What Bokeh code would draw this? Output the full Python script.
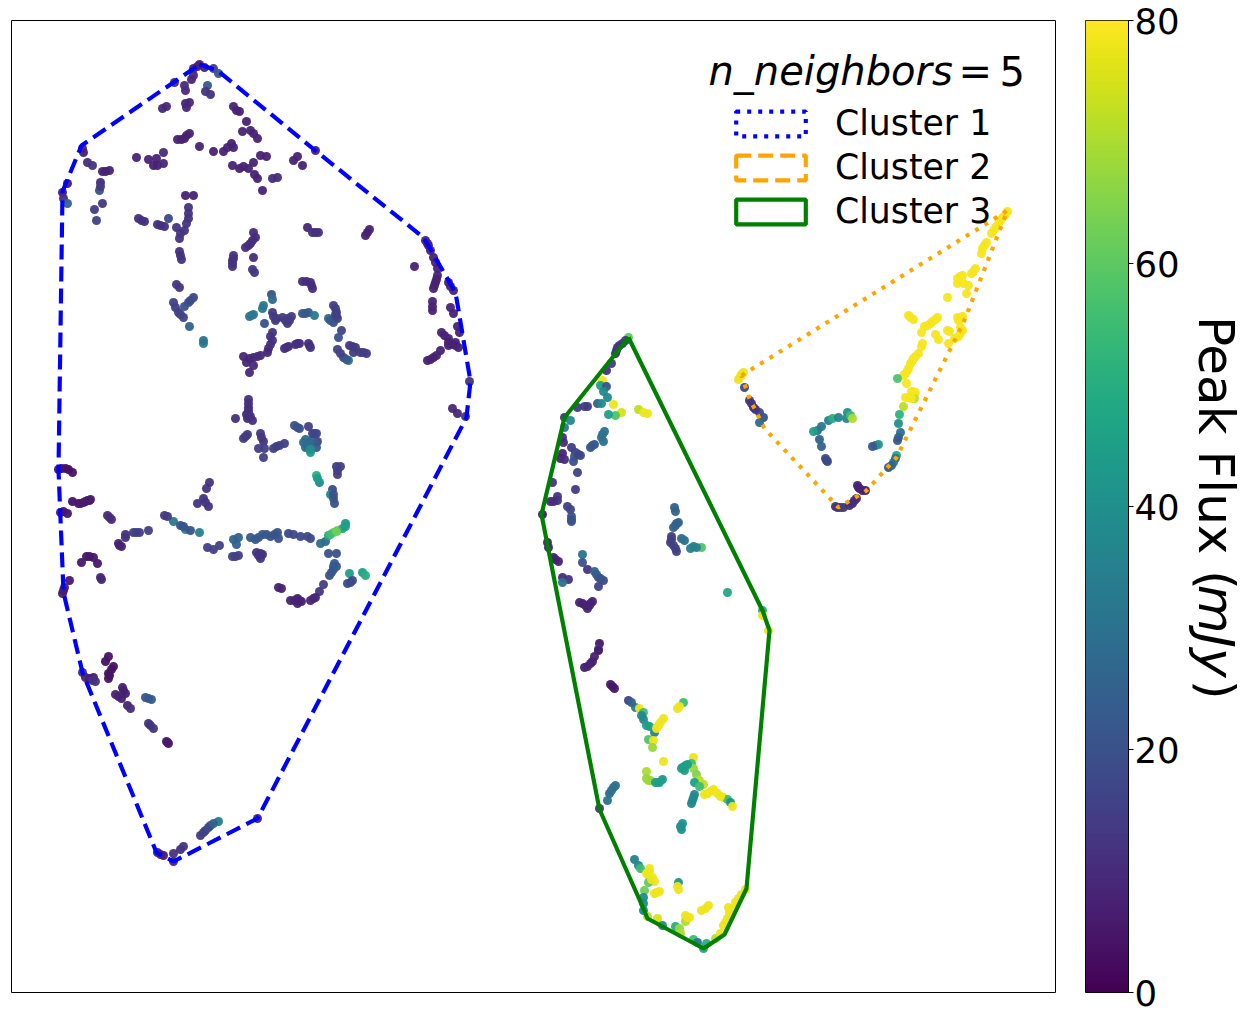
from bokeh.plotting import figure
from bokeh.layouts import row
from bokeh.models import (ColumnDataSource, LinearColorMapper, Label, Legend, LegendItem,
                          LinearAxis, FixedTicker, Range1d)
from bokeh.palettes import Viridis256
from bokeh.embed import file_html
from bokeh.resources import INLINE
import numpy as np

flux_ticks = [0, 20, 40, 60, 80]
cluster_names = ["Cluster 1", "Cluster 2", "Cluster 3"]
colorbar_label = ["Peak Flux (", "mJy", ")"]
legend_title = ["n_neighbors", "=", "5"]

hull1_x = [199, 217, 316, 423, 455, 470, 466, 257, 173, 156, 82, 63, 58, 62, 81, 199]
hull1_y = [64, 70, 151, 237, 292, 381, 417, 818, 861, 852, 672, 592, 469, 191, 145, 64]
hull2_x = [741, 1007, 963, 896, 866, 838, 764, 749, 741]
hull2_y = [375, 210, 322, 457, 490, 507, 428, 398, 375]
hull3_x = [628, 762, 769, 746, 724, 703, 647, 642, 599, 541, 564, 628]
hull3_y = [337, 610, 630, 888, 934, 948, 918, 906, 809, 514, 417, 337]

c1_x = [199,193,197,204,213,218,174,191,193,184,
        185,207,205,210,162,166,185,189,186,233,
        236,239,246,242,250,253,257,177,181,184,
        189,199,213,223,227,231,233,136,148,156,
        163,153,157,163,260,266,232,239,243,248,
        253,254,257,272,277,262,293,297,302,315,
        82,83,87,92,102,109,100,99,67,62,
        63,67,102,94,96,138,144,157,164,168,
        176,188,188,188,186,180,184,179,185,193,
        179,181,176,179,173,178,183,193,188,184,
        189,203,203,253,255,250,245,233,232,232,
        253,252,254,302,310,312,307,315,367,365,
        271,272,263,262,249,253,264,272,275,282,
        287,291,302,308,314,333,336,328,333,337,
        341,338,272,272,268,267,260,253,243,246,
        253,249,286,297,309,337,343,348,349,355,
        353,360,366,425,428,433,437,414,437,435,
        433,448,453,432,432,450,453,457,459,441,
        448,448,455,458,427,433,440,469,248,248,
        248,247,252,235,245,260,263,258,264,263,
        276,284,297,308,314,317,303,307,311,310,
        316,336,340,337,316,319,332,330,333,334,
        452,457,465,58,65,72,72,78,83,89,
        60,67,107,111,209,206,197,203,208,164,
        173,180,185,190,199,148,136,125,119,207,
        213,219,233,238,236,235,256,260,262,250,
        255,262,270,277,278,288,293,300,307,310,
        320,325,328,333,337,342,345,345,328,336,
        334,333,329,349,362,365,347,352,323,319,
        315,310,301,297,297,290,278,86,93,81,
        97,69,101,63,108,105,113,108,108,82,
        85,93,95,122,125,115,121,127,130,145,
        151,148,153,167,157,163,173,173,180,183,
        200,205,210,218,257]
c1_y = [64,68,66,67,68,73,82,79,75,85,
        90,85,91,94,108,106,103,102,107,106,
        110,111,121,131,130,133,138,139,139,138,
        133,146,151,151,147,143,147,157,159,158,
        152,165,165,163,155,156,165,168,166,168,
        162,174,178,178,177,190,160,156,165,150,
        148,152,162,165,171,170,182,190,183,192,
        198,203,203,209,220,218,221,224,226,218,
        227,207,213,218,223,233,230,238,195,195,
        251,259,284,287,302,312,317,297,302,306,
        326,343,340,232,237,243,247,255,260,266,
        257,269,272,281,282,288,227,232,232,235,
        294,299,305,308,316,314,323,312,320,317,
        323,316,313,312,315,305,312,318,322,318,
        330,337,332,340,348,352,355,357,356,362,
        365,372,347,343,345,349,357,360,345,347,
        352,352,353,240,245,257,268,266,275,282,
        288,282,290,301,310,307,313,326,332,332,
        338,345,342,347,360,357,350,381,399,407,
        413,418,420,418,436,433,441,448,448,457,
        446,443,427,426,433,441,442,445,440,452,
        447,466,466,474,475,482,489,494,498,503,
        408,413,416,469,468,472,501,503,502,500,
        512,513,515,519,482,488,503,498,506,515,
        521,525,529,530,532,530,532,537,545,547,
        549,545,539,537,544,556,552,558,554,537,
        539,534,536,532,538,533,534,536,536,538,
        543,541,535,532,530,528,523,526,553,553,
        563,569,575,573,572,575,583,580,584,591,
        597,600,601,598,603,600,587,556,557,562,
        563,580,579,590,656,661,666,673,678,672,
        677,677,681,687,693,694,698,705,708,697,
        699,723,728,742,852,855,861,853,849,846,
        835,830,825,821,818]
c1_flux = [7,8,8,8,15,22,9,9,9,10,
        10,22,12,12,9,9,9,9,9,8,
        8,8,8,8,8,8,8,8,8,8,
        8,8,8,8,8,8,8,8,8,8,
        10,8,8,9,8,8,8,8,8,8,
        8,8,8,10,10,8,8,8,8,8,
        8,8,10,12,8,8,10,20,6,7,
        10,25,13,14,15,11,11,11,11,18,
        12,12,12,12,12,12,12,12,8,8,
        11,11,13,13,15,16,16,17,18,20,
        25,35,30,10,10,10,10,12,12,12,
        10,13,13,10,10,10,9,11,8,8,
        20,28,32,32,32,32,20,14,14,14,
        14,14,22,22,33,15,15,26,20,18,
        16,20,12,12,10,9,10,10,9,9,
        9,9,11,11,11,15,18,30,14,14,
        14,14,14,8,8,8,8,8,8,8,
        8,8,8,8,8,8,8,8,8,8,
        8,8,8,8,8,8,8,12,11,11,
        11,11,11,11,14,13,13,15,15,15,
        15,15,20,15,17,17,28,28,25,45,
        22,15,15,15,50,38,18,38,22,20,
        9,9,14,4,4,4,4,6,6,6,
        5,5,10,10,12,12,12,12,12,14,
        32,20,35,20,35,15,15,12,8,15,
        15,15,25,25,25,15,12,12,12,22,
        22,22,20,20,20,18,18,18,18,18,
        28,28,48,62,65,48,42,45,20,20,
        22,22,20,45,45,50,18,18,15,13,
        9,9,8,8,8,8,8,5,5,5,
        5,5,9,6,4,4,4,4,4,10,
        7,7,12,7,7,8,7,8,10,20,
        24,12,12,6,7,7,9,12,12,12,
        14,16,20,33,7]

# further points read along the thicker strands of cluster 1
c1b_x = [186,105,100,141,160,180,175,180,190,252,
         248,232,233,306,311,312,318,369,251,273,
         276,285,289,287,305,335,330,336,335,270,
         270,257,249,284,288,295,299,310,308,340,
         346,352,363,430,435,427,436,434,450,432,
         444,448,452,455,430,436,248,248,248,246,
         250,243,247,261,273,279,294,299,312,316,
         305,305,309,310,337,317,333,61,68,85,
         80,87,90,63,109,205,167,183,133,139,
         125,118,121,232,238,258,260,258,266,274,
         330,336,333,331,336,350,313,294,299,281,
         89,100,64,62,109,111,89,92,123,118,
         148,150,166,168,160,203,208,213]
c1b_y = [135,171,186,220,225,255,307,314,300,240,
         245,263,258,281,285,232,232,229,315,316,
         318,320,320,318,313,308,320,316,314,336,
         344,356,358,348,346,344,343,347,343,353,
         359,346,352,250,262,243,279,285,286,306,
         335,342,344,345,359,355,403,410,416,414,
         416,438,434,437,448,445,425,428,433,433,
         447,439,443,449,470,478,494,468,469,501,
         503,500,499,511,517,502,516,526,532,532,
         534,543,546,556,555,555,553,537,534,534,
         534,531,566,572,566,582,598,600,600,588,
         556,577,587,593,675,669,678,680,690,696,
         698,725,741,743,854,832,827,823]
c1b_flux = [8,8,14,11,11,11,15,16,18,10,
         10,12,12,10,10,11,11,8,32,14,
         14,14,14,14,22,15,22,15,15,12,
         11,10,9,11,11,11,11,11,11,16,
         22,14,14,8,8,8,8,8,8,8,
         8,8,8,8,8,8,11,11,11,11,
         11,14,14,13,15,15,20,20,17,17,
         28,28,28,40,15,45,20,4,4,6,
         6,6,6,5,10,12,14,20,15,15,
         12,8,8,15,15,12,12,22,22,20,
         55,62,22,21,22,18,9,8,8,8,
         5,9,6,6,4,4,7,12,7,8,
         22,12,6,6,7,15,18,25]

c2_x = [1007,1002,998,993,991,984,982,981,973,962,
        957,957,963,968,966,947,908,913,937,932,
        927,960,962,947,960,960,921,935,938,954,
        948,922,921,918,913,910,908,903,897,906,
        913,915,908,914,903,899,898,900,898,896,
        893,888,875,878,821,819,817,813,821,828,
        832,838,847,846,850,852,826,744,740,743,
        749,753,759,763,759,840,837,852,856,857,
        862,865]
c2_y = [211,217,223,230,233,245,248,253,271,275,
        278,283,283,285,293,297,315,319,317,321,
        325,318,316,330,327,333,332,334,339,338,
        343,343,346,353,358,363,368,375,378,383,
        391,392,397,398,406,414,423,432,437,455,
        462,467,445,444,446,439,430,431,426,420,
        418,417,412,418,415,418,460,387,376,372,
        400,407,412,417,422,507,507,503,498,485,
        490,490]
c2_flux = [79,79,79,79,79,79,79,79,79,79,
        79,79,79,79,79,79,79,79,79,79,
        79,79,79,79,79,79,79,79,79,79,
        79,79,79,79,79,79,79,79,58,79,
        79,79,79,72,72,52,40,30,25,48,
        35,22,22,42,25,25,30,45,32,35,
        50,35,40,38,55,70,18,18,78,78,
        12,12,18,20,28,15,12,10,10,8,
        8,8]
c2b_x = [1005,1000,995,986,960,975,971,910,935,930,
         924,958,957,949,962,958,915,912,907,905,
         911,905,911,897,891,895,751,755,843,835,
         849,854,859,858,825,827,741,738,872]
c2b_y = [214,220,227,242,276,268,273,317,319,323,
         326,320,317,331,330,336,356,360,370,373,
         391,397,398,440,465,458,403,409,507,506,
         505,500,488,487,458,461,374,379,446]
c2b_flux = [79,79,79,79,79,79,79,79,79,79,
         79,79,79,79,79,79,79,79,79,79,
         79,79,79,22,25,30,12,12,14,12,
         10,10,8,8,18,18,78,78,22]

c3_x = [628,622,617,615,611,606,602,600,606,603,
        607,613,621,615,608,638,643,647,597,601,
        584,577,564,570,564,562,563,604,601,603,
        592,590,571,575,580,574,573,562,560,564,
        577,552,575,557,557,550,567,570,542,571,
        571,674,675,676,673,671,670,681,675,676,
        690,693,701,727,762,762,768,547,548,553,
        558,582,582,587,594,598,603,598,562,568,
        562,579,587,592,599,598,594,592,584,598,
        612,628,635,639,643,641,643,646,649,654,
        648,653,652,663,658,677,683,663,646,646,
        648,657,662,693,683,682,691,693,696,699,
        703,694,699,694,693,691,707,713,717,723,
        727,730,732,682,681,613,609,607,599,634,
        638,640,649,648,652,654,648,644,656,678,
        677,678,643,643,643,647,657,662,675,679,
        680,685,689,685,701,705,708,693,697,703,
        706,715,720,723,727,729,728,735,732,741,
        745]
c3_y = [337,343,347,353,363,370,380,385,386,391,
        397,404,412,415,414,409,412,413,403,403,
        406,407,417,420,427,437,442,431,437,441,
        445,447,447,452,455,456,461,453,458,459,
        472,482,489,496,500,501,506,509,514,516,
        521,507,511,523,527,536,542,538,548,551,
        548,546,547,592,610,615,630,542,547,557,
        561,554,562,569,571,577,580,586,577,579,
        582,602,608,601,643,649,656,661,667,650,
        686,700,707,708,712,715,719,725,726,732,
        739,740,747,718,725,708,702,761,771,778,
        780,782,779,757,767,767,763,768,774,780,
        784,782,786,794,797,803,793,789,793,797,
        799,802,806,823,829,787,793,800,808,859,
        865,868,868,875,877,881,882,890,892,882,
        886,889,897,903,910,916,918,925,926,928,
        933,915,917,921,910,908,905,939,942,948,
        943,938,933,925,918,912,907,902,908,894,
        889]
c3_flux = [60,12,12,12,14,12,78,45,20,38,
        38,78,75,58,45,72,78,78,25,38,
        16,14,12,38,32,10,10,30,30,30,
        22,22,14,16,18,22,20,8,8,10,
        16,12,14,12,12,10,16,16,6,20,
        20,25,25,25,25,15,15,28,15,15,
        35,35,58,48,50,78,78,8,8,8,
        8,30,20,12,25,22,18,16,10,12,
        30,8,8,8,5,14,8,8,7,6,
        4,15,35,78,55,38,38,45,45,35,
        58,78,68,78,78,78,55,78,70,68,
        68,45,42,78,45,45,55,68,65,72,
        72,45,55,38,38,38,78,78,78,78,
        55,40,78,40,40,30,28,30,12,35,
        38,55,78,78,78,78,60,62,78,42,
        78,78,38,38,38,72,75,38,50,68,
        70,78,78,70,78,78,78,55,30,48,
        50,72,78,78,78,78,78,78,78,78,
        78]
c3b_x = [619,625,616,587,594,602,578,553,571,678,
         675,671,673,684,696,555,596,600,582,585,
         589,590,590,587,610,614,631,660,656,679,
         685,687,684,681,650,659,655,692,710,720,
         704,680,611,615,651,646,649,654,659,687,
         725,738]
c3b_y = [345,340,350,406,444,434,454,501,519,522,
         525,539,545,540,547,559,574,578,603,605,
         605,603,663,666,684,688,702,722,728,706,
         765,764,770,768,780,782,782,800,791,796,
         794,826,790,785,879,873,872,893,891,917,
         922,898]
c3b_flux = [12,14,12,14,22,30,16,10,20,25,
         25,15,15,30,35,8,24,20,8,8,
         8,8,8,8,5,5,25,78,78,78,
         45,45,45,45,68,45,45,38,78,78,
         78,40,30,30,78,78,78,78,78,78,
         78,78]

mapper = LinearColorMapper(palette=Viridis256, low=0, high=80)
nan = float("nan")

# main panel: range equals the reference's picture coordinates
p = figure(width=1056, height=1020, x_range=Range1d(11, 1055), y_range=Range1d(992, 20),
           x_axis_location=None, y_axis_location=None, toolbar_location=None,
           output_backend="svg", min_border_left=11, min_border_right=1,
           min_border_top=20, min_border_bottom=28)
p.grid.visible = False
p.outline_line_color = "black"
p.outline_line_width = 1

for xs, ys, fs in [(c1_x + c1b_x, c1_y + c1b_y, c1_flux + c1b_flux),
                   (c2_x + c2b_x, c2_y + c2b_y, c2_flux + c2b_flux),
                   (c3_x + c3b_x, c3_y + c3b_y, c3_flux + c3b_flux)]:
    src = ColumnDataSource(dict(x=xs, y=ys, flux=fs))
    p.scatter("x", "y", source=src, size=9, marker="circle", line_color=None,
              fill_color={"field": "flux", "transform": mapper}, fill_alpha=0.95)

p.line(hull1_x, hull1_y, line_color="blue", line_width=4.17, line_dash="15 7")
p.line(hull2_x, hull2_y, line_color="orange", line_width=4.17, line_dash="4 7")
p.line(hull3_x, hull3_y, line_color="green", line_width=4.17)

h1 = p.quad(left=[nan], right=[nan], top=[nan], bottom=[nan], fill_color=None, line_color="blue",
            line_width=4.17, line_dash="4 7")
h2 = p.quad(left=[nan], right=[nan], top=[nan], bottom=[nan], fill_color=None, line_color="orange",
            line_width=4.17, line_dash="15 7")
h3 = p.quad(left=[nan], right=[nan], top=[nan], bottom=[nan], fill_color=None, line_color="green",
            line_width=4.17)
legend = Legend(items=[LegendItem(label=cluster_names[0], renderers=[h1]),
                       LegendItem(label=cluster_names[1], renderers=[h2]),
                       LegendItem(label=cluster_names[2], renderers=[h3])],
                location=(716, 761), orientation="vertical", padding=0, margin=0,
                glyph_width=87, glyph_height=31, label_standoff=21, spacing=4,
                background_fill_alpha=0, border_line_color=None,
                label_text_font="DejaVu Sans", label_text_font_size="34.7px",
                label_text_color="black")
p.add_layout(legend)

p.add_layout(Label(x=708, y=70, text=legend_title[0], text_font="DejaVu Sans", text_color="black",
                   text_font_style="italic", text_font_size="40px", text_baseline="alphabetic"))
p.add_layout(Label(x=958, y=70, text=legend_title[1], text_font="DejaVu Sans", text_color="black",
                   text_font_size="40px", text_baseline="alphabetic"))
p.add_layout(Label(x=999, y=70, text=legend_title[2], text_font="DejaVu Sans", text_color="black",
                   text_font_size="40px", text_baseline="alphabetic"))

# colour bar panel
cb = figure(width=129, height=1020, x_range=Range1d(1085, 1128), y_range=Range1d(0, 80),
            x_axis_location=None, y_axis_location=None, toolbar_location=None,
            output_backend="svg", min_border_left=29, min_border_right=57,
            min_border_top=20, min_border_bottom=28)
cb.grid.visible = False
gradient = np.linspace(0, 80, 256).reshape(256, 1)
cb.image(image=[gradient], x=1085, y=0, dw=43, dh=80, color_mapper=mapper)
cb.outline_line_color = "black"
cb.outline_line_width = 1
axis = LinearAxis(ticker=FixedTicker(ticks=flux_ticks), major_tick_in=0, major_tick_out=5,
                  minor_tick_line_color=None, axis_line_color="black", major_tick_line_width=1,
                  major_label_text_font="DejaVu Sans", major_label_text_font_size="35.5px",
                  major_label_text_color="black", major_label_standoff=1)
cb.add_layout(axis, "right")

# label panel
lp = figure(width=61, height=1020, x_range=Range1d(1185, 1246), y_range=Range1d(1020, 0),
            x_axis_location=None, y_axis_location=None, toolbar_location=None,
            output_backend="svg", min_border_left=0, min_border_right=0,
            min_border_top=0, min_border_bottom=0)
lp.grid.visible = False
lp.outline_line_color = None
lab = dict(text_font="DejaVu Sans", text_font_size="50px", angle=-90, angle_units="deg",
           text_baseline="alphabetic", text_align="left", text_color="black")
lp.add_layout(Label(x=1215, y=310, text=colorbar_label[0], **lab))
lp.add_layout(Label(x=1215, y=592, text=colorbar_label[1], text_font_style="italic", **lab))
lp.add_layout(Label(x=1215, y=692, text=colorbar_label[2], **lab))

layout = row(p, cb, lp, spacing=0)
open("out.html", "w").write(file_html(layout, INLINE))
